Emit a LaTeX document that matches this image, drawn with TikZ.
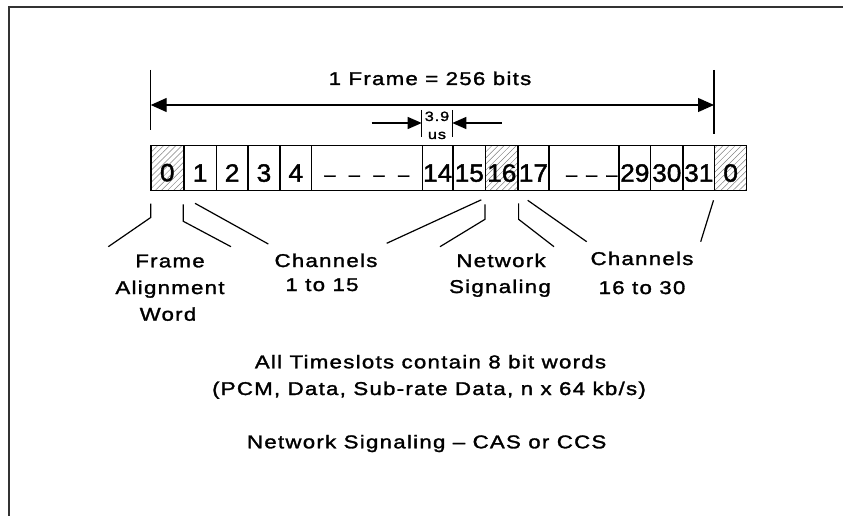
\documentclass[tikz,border=0pt]{standalone}
\usepackage{fontspec}
\setmainfont{Liberation Sans}
\newfontfamily\lblfont{Liberation Sans}[LetterSpace=7,FakeStretch=1.2,FakeBold=1.6]
\newfontfamily\digfont{Liberation Sans}[FakeStretch=1.05,FakeBold=1.6]
\usetikzlibrary{arrows.meta,patterns.meta}
\begin{document}
\begin{tikzpicture}[x=1pt,y=-1pt,
  cell/.style={draw, line width=1.3pt, inner sep=0pt, anchor=north west,
    text height=36pt, text depth=9pt, font=\digfont\fontsize{25}{25}\selectfont},
  hatch/.style={pattern={Lines[angle=45,distance=4.3pt,line width=0.5pt]}, pattern color=black!50},
  dashes/.style={font=\digfont\fontsize{19}{19}\selectfont, inner sep=0pt, anchor=base},
  lbl/.style={font=\lblfont\fontsize{18.5}{22}\selectfont, inner sep=0pt, anchor=base},
  small/.style={font=\lblfont\fontsize{13.5}{14}\selectfont, inner sep=0pt, anchor=base},
  leader/.style={line width=1.2pt},
  tick/.style={line width=1.2pt},
  bigarrow/.style={line width=1.2pt, {Triangle[length=16pt,width=14pt]}-{Triangle[length=16pt,width=14pt]}},
  smallarrow/.style={line width=1.2pt, -{Triangle[length=14pt,width=12pt]}}
]
\useasboundingbox (0,0) rectangle (843,516);
% outer frame
\draw[line width=1.8pt, black!80] (9,516) -- (9,7) -- (843,7);

% cells
\node[cell, hatch, minimum width=32.6pt] (c0)  at (150.7,145) {0};
\node[cell, minimum width=32.4pt] (c1)  at (183.3,145) {1};
\node[cell, minimum width=31.6pt] (c2)  at (215.7,145) {2};
\node[cell, minimum width=32pt]   (c3)  at (247.3,145) {3};
\node[cell, minimum width=31.7pt] (c4)  at (279.3,145) {4};
\node[cell, minimum width=110.7pt] (cd1) at (311,145) {};
\node[cell, minimum width=30.6pt] (c14) at (421.7,145) {14};
\node[cell, minimum width=32.7pt] (c15) at (452.3,145) {15};
\node[cell, hatch, minimum width=32.3pt] (c16) at (485,145) {16};
\node[cell, minimum width=31pt]   (c17) at (517.3,145) {17};
\node[cell, minimum width=70pt] (cd2) at (548.3,145) {};
\node[cell, minimum width=31.7pt] (c29) at (618.3,145) {29};
\node[cell, minimum width=32.3pt] (c30) at (650,145) {30};
\node[cell, minimum width=31.7pt] (c31) at (682.3,145) {31};
\node[cell, hatch, minimum width=32pt] (c0b) at (714,145) {0};

% dashes inside the gap cells
\node[dashes] (d1) at (366.7,181) {–\hspace{13.5pt}–\hspace{13.5pt}–\hspace{13.5pt}–};
\node[dashes, anchor=base east] (d2) at (617.5,181) {–\hspace{9pt}–\hspace{9pt}–};

% frame dimension
\coordinate (ftl) at (150.7,70);
\coordinate (ftr) at (714,70);
\draw[tick] (ftl) -- (150.7,130);
\draw[tick] (ftr) -- (714,134);
\coordinate (fal) at (150.7,105);
\coordinate (far) at (714,105);
\draw[bigarrow] (fal) -- (far);
\node[lbl] (frametxt) at (430,85) {1 Frame = 256 bits};

% timeslot duration
\draw[tick] (421.7,110) -- (421.7,137);
\draw[tick] (452.3,110) -- (452.3,137);
\coordinate (sal) at (371.7,123);
\coordinate (sar) at (501.7,123);
\coordinate (sat) at (421.7,123);
\coordinate (sbt) at (452.3,123);
\draw[smallarrow] (sal) -- (sat);
\draw[smallarrow] (sar) -- (sbt);
\node[small] (t39) at (437,121) {3.9};
\node[small] (tus) at (437,139) {us};

% leaders
\coordinate (faL) at (108.3,246.7);
\coordinate (faR) at (231,246.7);
\coordinate (chaL) at (268.3,244);
\coordinate (chaR) at (386.7,243.3);
\coordinate (nsL) at (440,246.7);
\coordinate (nsR) at (554,246.7);
\coordinate (chbL) at (586.7,241.7);
\coordinate (chbR) at (700.7,241.7);
\draw[leader] (c0.south west) ++(0,13) -- ++(0,14) -- (faL);
\draw[leader] (c1.south west) ++(0,13) -- ++(0,17) -- (faR);
\draw[leader] (c1.south west) ++(11.7,12) -- (chaL);
\draw[leader] (c15.south east) ++(-5,8.5) -- (chaR);
\draw[leader] (c16.south west) ++(0,13) -- ++(0,15) -- (nsL);
\draw[leader] (c16.south east) ++(0,12) -- ++(0,16) -- (nsR);
\draw[leader] (c17.south west) ++(10.4,9) -- (chbL);
\draw[leader] (c0b.south west) ++(-0.5,9) -- (chbR);

% labels
\node[lbl] (fa1) at (170,267.3) {Frame};
\node[lbl] (fa2) at (170,294) {Alignment};
\node[lbl] (fa3) at (168,320.7) {Word};
\node[lbl] (ch1) at (326,267) {Channels};
\node[lbl] (ch2) at (322,291) {1 to 15};
\node[lbl] (ns1) at (501,267) {Network};
\node[lbl] (ns2) at (500,293) {Signaling};
\node[lbl] (cb1) at (642,265) {Channels};
\node[lbl] (cb2) at (642,294) {16 to 30};

% notes
\node[lbl] (n1) at (430.5,368.3) {All Timeslots contain 8 bit words};
\node[lbl] (n2) at (429,395) {(PCM, Data, Sub-rate Data, n x 64 kb/s)};
\node[lbl] (n3) at (426.7,448.3) {Network Signaling – CAS or CCS};
\end{tikzpicture}
\end{document}
